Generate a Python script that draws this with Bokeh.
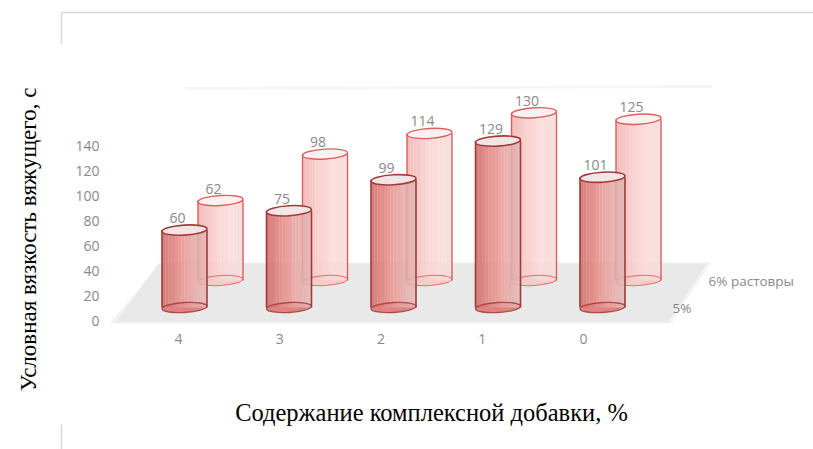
import numpy as np
from bokeh.plotting import figure
from bokeh.models import Range1d, LinearAxis, FixedTicker, Label
from bokeh.embed import file_html
from bokeh.resources import INLINE
from bokeh.core.properties import value

# ---------------- data ----------------
categories = ["4", "3", "2", "1", "0"]
series_labels = ["5%", "6% растовры"]
values_5pct = [60, 75, 99, 129, 101]
values_6pct = [62, 98, 114, 130, 125]
y_ticks = [0, 20, 40, 60, 80, 100, 120, 140]
x_title = "Содержание комплексной добавки, %"
y_title = "Условная вязкость вяжущего, с"

# ---------------- layout constants (canvas pixels) ----------------
W, H = 813, 449
X0, XSTEP = 184.0, 104.5      # first front column centre, column spacing
Y0, YUNIT = 307.0, 1.29       # front floor level, px per value unit
TICK_Y0, TICK_UNIT = 320.0, 1.25
LAB_X0, LAB_STEP = 178.0, 101.25


def dx(px):
    return (px - X0) / XSTEP


def dy(py):
    return (Y0 - py) / YUNIT


DX = 36 / XSTEP          # depth shift of the back row (x)
DY = 27 / YUNIT          # depth shift of the back row (y)
CW = 45 / XSTEP          # cylinder width
EH = 10 / YUNIT          # ellipse height
ANG = 0.06

FONT = value("Open Sans")
GRAY = "#898989"

p = figure(width=W, height=H,
           x_range=Range1d(dx(0), dx(W)), y_range=Range1d(dy(H), dy(0)),
           toolbar_location=None, output_backend="svg", min_border=0,
           x_axis_type=None, y_axis_type=None)
p.outline_line_color = None
p.background_fill_color = "white"
p.border_fill_color = "white"

# chart border (partly hidden, as in the reference)
p.segment(x0=[dx(61), dx(61), dx(61)], y0=[dy(12), dy(12), dy(424)],
          x1=[dx(W + 10), dx(61), dx(61)], y1=[dy(12), dy(44), dy(H + 5)],
          line_color="#d9d9d9", line_width=1.6)

n = len(categories)
# faint back wall edge
p.line(x=[dx(185), dx(712)], y=[dy(88), dy(86)], line_color="#f6f6f6", line_width=3)

# floor
FLOOR_FRONT_Y = dy(322)
FLOOR_BACK_Y = DY + 13.2
fx = [-0.72, n - 1 + 0.66, n - 1 + 1.04, -0.22]
fy = [FLOOR_FRONT_Y - 0.8, FLOOR_FRONT_Y - 0.8, FLOOR_BACK_Y + 1.0, FLOOR_BACK_Y + 1.0]
p.patch(x=fx, y=fy, fill_color="#f3f3f3", line_color=None)
fx2 = [-0.66, n - 1 + 0.63, n - 1 + 1.0, -0.25]
fy2 = [FLOOR_FRONT_Y, FLOOR_FRONT_Y, FLOOR_BACK_Y, FLOOR_BACK_Y]
p.patch(x=fx2, y=fy2, fill_color="#e9e9e9", line_color=None)


def hex2rgb(h):
    h = h.lstrip("#")
    return tuple(int(h[i:i + 2], 16) for i in (0, 2, 4))


def interp(stops, t):
    for (t0, c0), (t1, c1) in zip(stops[:-1], stops[1:]):
        if t0 <= t <= t1:
            a = (t - t0) / (t1 - t0)
            r0, g0, b0 = hex2rgb(c0)
            r1, g1, b1 = hex2rgb(c1)
            return "#%02x%02x%02x" % (round(r0 + a * (r1 - r0)), round(g0 + a * (g1 - g0)), round(b0 + a * (b1 - b0)))
    return stops[-1][1]


styles = [
    dict(stops=[(0, "#cd6a66"), (0.3, "#e2857f"), (0.6, "#e9a19d"), (1.0, "#dfbab8")],
         bottom="#d97a76", top="#f1e6e6", edge="#a33a3a", lw=1.6),
    dict(stops=[(0, "#f0b3b1"), (0.35, "#f9cbc9"), (0.65, "#fbd9d8"), (1.0, "#f3dedd")],
         bottom="#f5c8c6", top="#fbf1f1", edge="#da605d", lw=1.4),
]
series_values = [values_5pct, values_6pct]

NS = 14
for s in [1, 0]:
    st = styles[s]
    vals = np.array(series_values[s], dtype=float)
    xc = np.arange(n) + s * DX
    base = np.full(n, s * DY)
    top = base + vals

    p.ellipse(x=xc, y=base, width=CW, height=EH, angle=ANG,
              fill_color=st["bottom"], fill_alpha=0.9, line_color=None)

    L, R, B, T, C = [], [], [], [], []
    for i in range(n):
        for k in range(NS):
            L.append(xc[i] - CW / 2 + k * CW / NS)
            R.append(xc[i] - CW / 2 + (k + 1) * CW / NS + 0.0015)
            B.append(base[i])
            T.append(top[i])
            C.append(interp(st["stops"], (k + 0.5) / NS))
    p.quad(left=L, right=R, bottom=B, top=T, fill_color=C, fill_alpha=0.88, line_color=None)

    p.ellipse(x=xc, y=base, width=CW, height=EH, angle=ANG,
              fill_color=None, line_color=st["edge"], line_width=st["lw"] - 0.3, line_alpha=0.85)
    p.segment(x0=xc - CW / 2, y0=base, x1=xc - CW / 2, y1=top,
              line_color=st["edge"], line_width=st["lw"])
    p.segment(x0=xc + CW / 2, y0=base, x1=xc + CW / 2, y1=top,
              line_color=st["edge"], line_width=st["lw"])
    p.ellipse(x=xc, y=top, width=CW, height=EH, angle=ANG,
              fill_color=st["top"], line_color=st["edge"], line_width=st["lw"])

    p.text(x=xc - 7 / XSTEP, y=top + 12 / YUNIT, text=[str(int(v)) for v in vals],
           text_font=FONT, text_font_size="14px", text_color=GRAY,
           text_align="center", text_baseline="middle")

    p.text(x=[n - 1 + 0.67 + s * DX], y=[s * DY], text=[series_labels[s]],
           text_font=FONT, text_font_size="13.5px", text_color=GRAY,
           text_align="left", text_baseline="middle")

# value axis (tick labels only)
p.extra_y_ranges = {"tick": Range1d((TICK_Y0 - H) / TICK_UNIT, TICK_Y0 / TICK_UNIT)}
yaxis = LinearAxis(y_range_name="tick", ticker=FixedTicker(ticks=y_ticks),
                   fixed_location=dx(104))
yaxis.axis_line_color = None
yaxis.major_tick_line_color = None
yaxis.minor_tick_line_color = None
yaxis.major_tick_out = 0
yaxis.major_tick_in = 0
yaxis.major_label_standoff = 5
yaxis.major_label_text_font = "Open Sans"
yaxis.major_label_text_font_size = "14px"
yaxis.major_label_text_color = GRAY
p.add_layout(yaxis, "left")

# category axis
p.extra_x_ranges = {"lab": Range1d(-LAB_X0 / LAB_STEP, (W - LAB_X0) / LAB_STEP)}
xaxis = LinearAxis(x_range_name="lab", ticker=FixedTicker(ticks=list(range(n))),
                   major_label_overrides={i: c for i, c in enumerate(categories)},
                   fixed_location=dy(331))
xaxis.axis_line_color = None
xaxis.major_tick_line_color = None
xaxis.minor_tick_line_color = None
xaxis.major_tick_out = 0
xaxis.major_tick_in = 0
xaxis.major_label_standoff = 2
xaxis.major_label_text_font = "Open Sans"
xaxis.major_label_text_font_size = "14px"
xaxis.major_label_text_color = GRAY
p.add_layout(xaxis, "below")

# axis titles
p.add_layout(Label(x=dx(431), y=dy(412), text=x_title, text_font="Liberation Serif",
                   text_font_size="24.5px", text_color="black",
                   text_align="center", text_baseline="middle"))
p.add_layout(Label(x=dx(28), y=dy(239), text=y_title, text_font="Liberation Serif",
                   text_font_size="23px", text_color="black", angle=np.pi / 2,
                   text_align="center", text_baseline="middle"))

open("out.html", "w").write(file_html(p, INLINE))
